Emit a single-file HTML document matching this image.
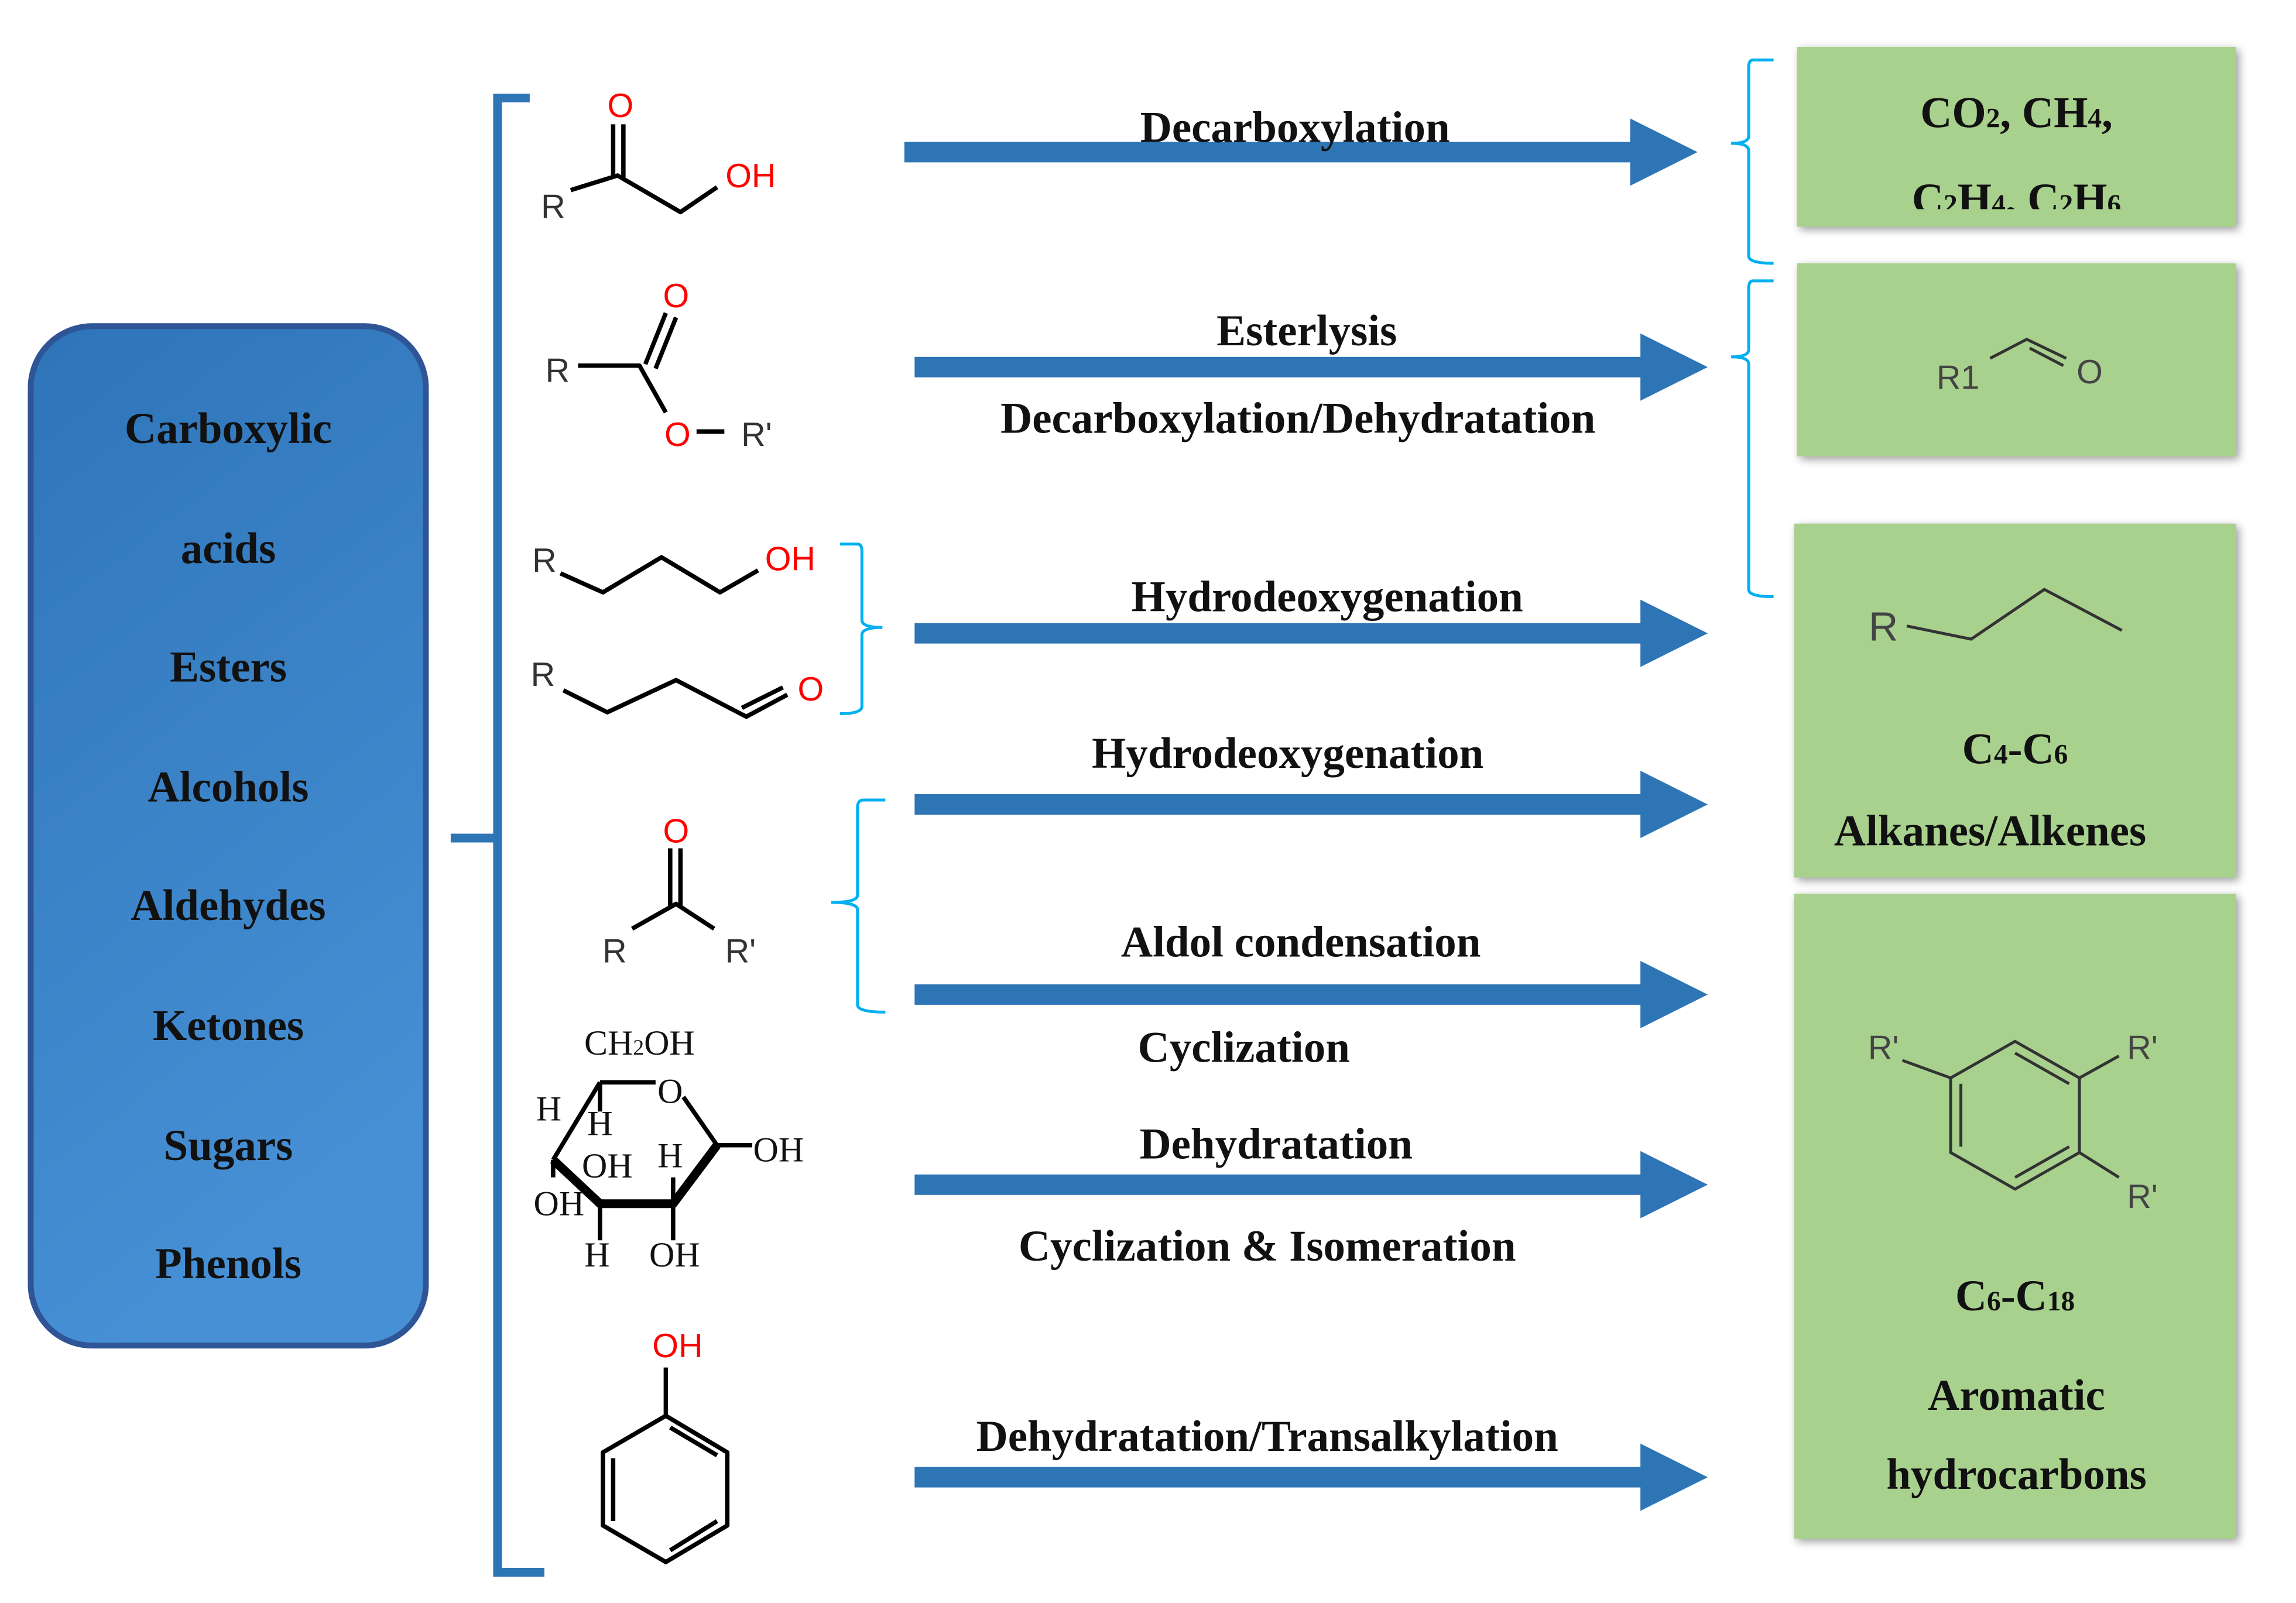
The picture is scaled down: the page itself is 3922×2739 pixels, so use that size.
<!DOCTYPE html>
<html><head><meta charset="utf-8"><style>
html,body{margin:0;padding:0;background:#fff;}
svg{display:block;}
.t{font-family:"Liberation Serif",serif;font-weight:bold;font-size:30px;fill:#111;text-anchor:middle;}
.m{font-family:"Liberation Sans",sans-serif;font-size:23px;fill:#333;text-anchor:middle;}
.r{fill:#f00;}
.s{font-family:"Liberation Serif",serif;font-size:24px;fill:#111;text-anchor:middle;}
</style></head><body>
<svg width="3922" height="2739" viewBox="0 0 1569 1096" preserveAspectRatio="none">
<defs>
<linearGradient id="bg" x1="0" y1="0" x2="0.3" y2="1"><stop offset="0" stop-color="#2E74B8"/><stop offset="1" stop-color="#4790D5"/></linearGradient>
<filter id="sh" x="-5%" y="-5%" width="115%" height="115%"><feGaussianBlur in="SourceAlpha" stdDeviation="3"/><feOffset dx="2" dy="2"/><feComponentTransfer><feFuncA type="linear" slope="0.4"/></feComponentTransfer><feMerge><feMergeNode/><feMergeNode in="SourceGraphic"/></feMerge></filter>
</defs>
<rect x="21" y="223" width="270" height="697" rx="42" fill="url(#bg)" stroke="#2F5597" stroke-width="4"/>
<g class="t">
<text x="156" y="303">Carboxylic</text><text x="156" y="385">acids</text><text x="156" y="466">Esters</text>
<text x="156" y="548">Alcohols</text><text x="156" y="629">Aldehydes</text><text x="156" y="711">Ketones</text>
<text x="156" y="793">Sugars</text><text x="156" y="874">Phenols</text>
</g>
<path d="M362,67 H340 V1075 H372" fill="none" stroke="#2E75B6" stroke-width="6"/>
<path d="M308,573 H340" stroke="#2E75B6" stroke-width="6"/>
<g fill="#2E75B6">
<rect x="618" y="97" width="500" height="14"/><polygon points="1114,81 1160,104 1114,127"/>
<rect x="625" y="244" width="500" height="14"/><polygon points="1121,228 1167,251 1121,274"/>
<rect x="625" y="426" width="500" height="14"/><polygon points="1121,410 1167,433 1121,456"/>
<rect x="625" y="543" width="500" height="14"/><polygon points="1121,527 1167,550 1121,573"/>
<rect x="625" y="673" width="500" height="14"/><polygon points="1121,657 1167,680 1121,703"/>
<rect x="625" y="803" width="500" height="14"/><polygon points="1121,787 1167,810 1121,833"/>
<rect x="625" y="1003" width="500" height="14"/><polygon points="1121,987 1167,1010 1121,1033"/>
</g>
<g class="t">
<text x="885" y="97">Decarboxylation</text>
<text x="893" y="236">Esterlysis</text><text x="887" y="296">Decarboxylation/Dehydratation</text>
<text x="907" y="418">Hydrodeoxygenation</text>
<text x="880" y="525">Hydrodeoxygenation</text>
<text x="889" y="654">Aldol condensation</text><text x="850" y="726">Cyclization</text>
<text x="872" y="792">Dehydratation</text><text x="866" y="862">Cyclization &amp; Isomeration</text>
<text x="866" y="992">Dehydratation/Transalkylation</text>
</g>
<g fill="none" stroke="#00B0F0" stroke-width="2">
<path d="M1212,41 H1198 Q1195,41 1195,46 V93 Q1195,98 1183,98 Q1195,98 1195,103 V175 Q1195,180 1212,180"/>
<path d="M1212,192 H1198 Q1195,192 1195,197 V239 Q1195,244 1183,244 Q1195,244 1195,249 V403 Q1195,408 1212,408"/>
<path d="M574,372 H586 Q589,372 589,377 V424 Q589,429 603,429 Q589,429 589,434 V483 Q589,488 574,488"/>
<path d="M605,547 H590 Q586,547 586,552 V612 Q586,617 568,617 Q586,617 586,622 V687 Q586,692 605,692"/>
</g>
<g fill="#A9D18E" filter="url(#sh)">
<rect x="1228" y="32" width="300" height="123"/>
<rect x="1228" y="180" width="300" height="132"/>
<rect x="1226" y="358" width="302" height="242"/>
<rect x="1226" y="611" width="302" height="441"/>
</g>
<g class="t">
<text x="1378" y="87">CO<tspan font-size="19">2</tspan>, CH<tspan font-size="19">4</tspan>,</text>
<svg x="1228" y="110" width="300" height="33" viewBox="1228 110 300 33" overflow="hidden"><text class="t" x="1378" y="146">C<tspan font-size="19">2</tspan>H<tspan font-size="19">4</tspan>, C<tspan font-size="19">2</tspan>H<tspan font-size="19">6</tspan></text></svg>
<text x="1377" y="522">C<tspan font-size="19">4</tspan>-C<tspan font-size="19">6</tspan></text>
<text x="1360" y="578">Alkanes/Alkenes</text>
<text x="1377" y="896">C<tspan font-size="19">6</tspan>-C<tspan font-size="19">18</tspan></text>
<text x="1378" y="964">Aromatic</text>
<text x="1378" y="1018">hydrocarbons</text>
</g>
<g stroke="#333" stroke-width="2" fill="none">
<path d="M1360,245 L1385,232 L1412,245"/><path d="M1387,238 L1410,250"/>
<path d="M1303,428 L1347,437 L1397,403 L1450,431"/>
<polygon points="1377,712 1421,737 1421,788 1377,813 1333,788 1333,737"/>
<path d="M1377,720 L1414,741 M1414,784 L1377,805 M1340,741 L1340,784"/>
<path d="M1300,725 L1333,737 M1421,737 L1448,722 M1421,788 L1448,805"/>
</g>
<g class="m">
<text x="1338" y="266" style="fill:#444">R1</text><text x="1428" y="262" style="fill:#444">O</text>
<text x="1287" y="438" font-size="28" style="fill:#444">R</text>
<text x="1287" y="724" style="fill:#444">R'</text><text x="1464" y="724" style="fill:#444">R'</text><text x="1464" y="826" style="fill:#444">R'</text>
</g>
<g stroke="#000" stroke-width="3" fill="none" stroke-linejoin="round">
<path d="M419,85 V122 M426,85 V122"/><path d="M390,130 L422,120 L465,145 L490,128"/>
<path d="M441,249 L455,214 M448,252 L462,217"/><path d="M395,250 H437 L455,282"/><path d="M476,295 H495"/>
<path d="M383,392 L412,405 L452,381 L492,405 L518,390"/>
<path d="M385,472 L415,487 L462,465 L510,490 L538,475 M507,484 L535,470"/>
<path d="M458,580 V620 M465,580 V620"/><path d="M432,635 L462,618 L488,635"/>
<path d="M410,740 H448 M467,750 L490,783 H514 M410,740 V760 M410,740 L378,793"/>
<path d="M490,783 L460,823 H410 L378,793" stroke-width="6"/>
<path d="M410,823 V848 M460,823 V848 M460,823 V805 M378,793 V805"/>
<path d="M455,935 V968"/>
<polygon points="455,968 497,993 497,1043 455,1068 412,1043 412,993"/>
<path d="M458,976 L490,995 M490,1040 L458,1060 M419,997 V1040"/>
</g>
<g class="m">
<text x="424" y="80" class="m r">O</text><text x="378" y="149">R</text><text x="513" y="128" class="m r">OH</text>
<text x="462" y="210" class="m r">O</text><text x="381" y="261">R</text><text x="463" y="305" class="m r">O</text><text x="517" y="305">R'</text>
<text x="372" y="391">R</text><text x="540" y="390" class="m r">OH</text>
<text x="371" y="469">R</text><text x="554" y="479" class="m r">O</text>
<text x="462" y="576" class="m r">O</text><text x="420" y="658">R</text><text x="506" y="658">R'</text>
<text x="463" y="928" class="m r">OH</text>
</g>
<g class="s">
<text x="437" y="721">CH<tspan font-size="15">2</tspan>OH</text><text x="458" y="754">O</text>
<text x="532" y="794">OH</text><text x="375" y="766">H</text><text x="410" y="776">H</text>
<text x="415" y="805">OH</text><text x="458" y="798">H</text><text x="382" y="831">OH</text>
<text x="408" y="866">H</text><text x="461" y="866">OH</text>
</g>
</svg>
</body></html>
